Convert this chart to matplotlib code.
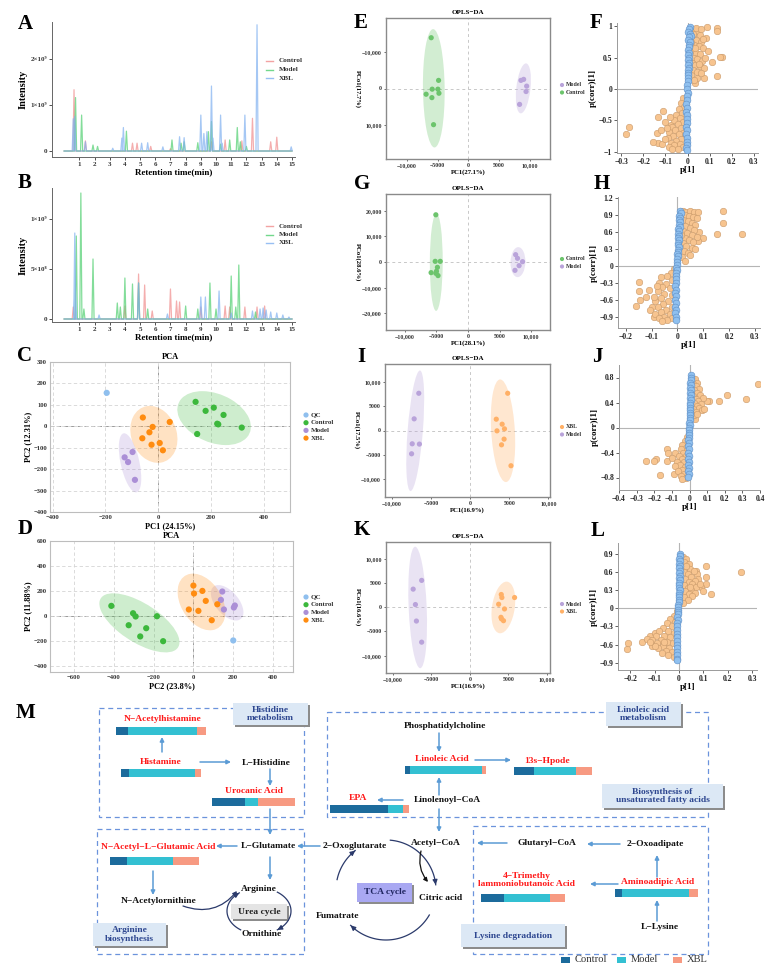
import numpy as np
import matplotlib
matplotlib.use('Agg')
import matplotlib.pyplot as plt
from matplotlib.patches import Ellipse, Rectangle

plt.rcParams['font.family'] = ['Liberation Serif', 'DejaVu Serif']
plt.rcParams['font.weight'] = 'bold'
plt.rcParams['axes.labelweight'] = 'bold'
plt.rcParams['axes.titleweight'] = 'bold'

# ---------------- data ----------------
chrom_names = ['Control', 'Model', 'XBL']
# (retention time min, height x1e9)
A_control = [(0.65, 1.33), (1.4, 0.22), (4.5, 0.17), (4.8, 0.17), (5.7, 0.10), (7.0, 0.05), (9.7, 0.20),
             (10.6, 0.24), (11.7, 0.22), (12.4, 0.71), (13.6, 0.20), (14.0, 0.30)]
A_model = [(0.75, 1.16), (1.15, 0.78), (1.9, 0.13), (2.2, 0.10), (4.1, 0.43), (7.1, 0.24), (7.7, 0.17),
           (7.9, 0.20), (8.8, 0.18), (9.5, 0.42), (9.7, 0.64), (10.3, 0.15), (10.9, 0.24), (11.4, 0.51),
           (11.6, 0.20), (12.0, 0.10)]
A_xbl = [(0.6, 0.70), (0.7, 0.75), (1.4, 0.20), (3.2, 0.06), (3.8, 0.28), (3.9, 0.51), (5.1, 0.17),
         (5.5, 0.18), (6.5, 0.09), (7.6, 0.31), (7.9, 0.29), (9.0, 0.78), (9.2, 0.38), (9.4, 0.42),
         (9.7, 1.41), (9.8, 0.28), (10.3, 0.78), (10.4, 0.17), (11.9, 0.78), (12.7, 2.74), (14.95, 0.09)]
B_control = [(0.6, 0.12), (4.0, 0.13), (4.9, 0.45), (5.3, 0.34), (5.8, 0.08), (7.0, 0.30), (7.4, 0.18),
             (7.6, 0.17), (9.0, 0.12), (10.6, 0.13), (10.9, 0.12), (11.9, 0.12), (12.7, 0.12), (13.2, 0.13)]
B_model = [(0.8, 0.83), (1.1, 1.26), (1.3, 0.10), (1.9, 0.60), (3.5, 0.16), (3.7, 0.12), (4.0, 0.41),
           (4.5, 0.35), (4.9, 0.36), (5.5, 0.10), (8.0, 0.13), (8.8, 0.10), (9.6, 0.36), (10.0, 0.10),
           (11.0, 0.43), (11.3, 0.12), (11.5, 0.54), (12.6, 0.07)]
B_xbl = [(0.7, 0.86), (0.72, 0.36), (2.3, 0.04), (4.9, 0.36), (6.8, 0.05), (9.0, 0.22), (9.3, 0.22),
         (10.2, 0.28), (11.0, 0.06), (12.4, 0.08), (12.9, 0.10), (13.1, 0.11), (13.3, 0.09), (13.6, 0.07),
         (14.0, 0.06), (14.4, 0.04), (14.8, 0.02)]

# PCA scores
C_qc = [(-195, 156)]
C_control = [(142, 114), (180, 72), (211, 87), (248, 53), (224, 12), (228, 9), (317, -6), (148, -36)]
C_model = [(-97, -120), (-127, -145), (-114, -167), (-88, -250)]
C_xbl = [(-58, 41), (-21, -3), (44, 20), (-33, -28), (-60, -56), (-25, -86), (6, -78), (18, -112)]
D_qc = [(200, -197)]
D_control = [(-412, 80), (-303, 21), (-290, -5), (-183, -3), (-325, -75), (-237, -99), (-267, -165), (-152, -203)]
D_model = [(145, 195), (138, 128), (208, 83), (203, 67), (153, 51)]
D_xbl = [(0, 243), (45, 200), (3, 179), (62, 120), (120, 93), (-23, 51), (25, 40), (92, -35)]

# OPLS-DA scores
E_control = [(-6040, -13900), (-4840, -2220), (-5880, 185), (-4950, 185), (-4780, 1300), (-6870, 1570),
             (-5930, 2500), (-5660, 9900)]
E_model = [(8570, -2220), (9010, -2500), (9500, -650), (9400, 830), (8350, 4350)]
G_control = [(-5100, 18400), (-5200, 260), (-4400, 260), (-4850, -2080), (-5850, -4150), (-5100, -4400),
             (-4750, -5300), (-5000, -3600)]
G_model = [(7550, 2860), (7850, 1430), (8650, 130), (8100, -1430), (7450, -3250)]
I_model = [(-6580, 7670), (-7170, 2400), (-7420, -2740), (-6500, -2800), (-7500, -4800)]
I_xbl = [(4790, 7670), (3330, 2330), (4080, 1300), (4380, 340), (3420, -70), (4330, -1780), (4000, -2950),
         (5210, -7260)]
K_model = [(-6270, 5560), (-7370, 3750), (-7080, 560), (-6950, -2850), (-6270, -7220)]
K_xbl = [(4070, 2640), (4150, 2010), (5800, 2010), (3730, 625), (4490, -350), (4030, -2080), (4360, -2780),
         (4100, -2400)]

# S-plots: (p[1], p(corr)[1])
F_orange = [(0.089, 0.98), (0.134, 0.97), (0.134, 0.92), (0.084, 0.81), (0.157, 0.51), (0.146, 0.51),
            (0.112, 0.43), (0.134, 0.20), (0.043, 0.18), (0.074, 0.18), (0.036, 0.10), (0.020, 0.95),
            (0.030, 0.90), (0.045, 0.92), (0.055, 0.86), (0.025, 0.82), (0.040, 0.78), (0.060, 0.75),
            (0.030, 0.70), (0.050, 0.68), (0.070, 0.65), (0.022, 0.62), (0.038, 0.58), (0.058, 0.55),
            (0.028, 0.50), (0.045, 0.47), (0.065, 0.45), (0.080, 0.50), (0.020, 0.42), (0.035, 0.38),
            (0.055, 0.36), (0.075, 0.33), (0.025, 0.30), (0.045, 0.27), (0.060, 0.25), (0.018, 0.22),
            (0.030, 0.15), (0.095, 0.60), (0.070, 0.80), (0.040, 0.97), (0.060, 0.95), (0.015, 0.75),
            (0.050, 0.40), (0.025, 0.88), (0.035, 0.65),
            (-0.266, -0.60), (-0.277, -0.71), (-0.135, -0.44), (-0.135, -0.86), (-0.115, -0.87),
            (-0.100, -0.52), (-0.077, -0.58), (-0.110, -0.35), (-0.155, -0.85), (-0.140, -0.70),
            (-0.120, -0.65), (-0.020, -0.15), (-0.030, -0.22), (-0.015, -0.28), (-0.040, -0.32),
            (-0.025, -0.38), (-0.050, -0.42), (-0.035, -0.46), (-0.060, -0.50), (-0.020, -0.52),
            (-0.045, -0.56), (-0.070, -0.60), (-0.030, -0.62), (-0.055, -0.66), (-0.085, -0.68),
            (-0.020, -0.70), (-0.040, -0.72), (-0.065, -0.75), (-0.090, -0.78), (-0.030, -0.80),
            (-0.050, -0.83), (-0.075, -0.86), (-0.100, -0.80), (-0.035, -0.88), (-0.060, -0.90),
            (-0.085, -0.92), (-0.020, -0.93), (-0.045, -0.95), (-0.070, -0.96), (-0.095, -0.62),
            (-0.080, -0.45)]
F_blue_x = [0.012, 0.008, 0.004, 0.010, 0.015, 0.006, 0.002, 0.011, 0.005, 0.009, 0.003, 0.007, 0.004, 0.008,
            0.002, 0.006, 0.003, 0.005, 0.001, 0.004, 0.002, 0.000, 0.001, -0.002, -0.003, 0.000, -0.004,
            -0.002, -0.005, -0.001, -0.006, -0.003, -0.004, -0.001, -0.005, -0.002, -0.006, -0.003, -0.004,
            -0.002, -0.005, -0.003]
F_blue_y = [0.98, 0.95, 0.91, 0.88, 0.85, 0.82, 0.78, 0.74, 0.70, 0.66, 0.62, 0.58, 0.54, 0.50, 0.46, 0.42,
            0.38, 0.34, 0.30, 0.26, 0.22, 0.18, 0.12, 0.06, 0.0, -0.06, -0.12, -0.18, -0.24, -0.30, -0.36,
            -0.42, -0.48, -0.54, -0.60, -0.66, -0.72, -0.78, -0.84, -0.89, -0.94, -0.98]

H_orange = [(0.178, 0.97), (0.175, 0.76), (0.153, 0.57), (0.250, 0.57), (0.100, 0.49), (0.085, 0.60),
            (0.080, 0.44), (0.020, 0.97), (0.035, 0.96), (0.050, 0.97), (0.065, 0.95), (0.028, 0.90),
            (0.045, 0.88), (0.060, 0.86), (0.075, 0.84), (0.022, 0.82), (0.040, 0.79), (0.055, 0.76),
            (0.070, 0.73), (0.030, 0.70), (0.048, 0.67), (0.065, 0.64), (0.020, 0.62), (0.038, 0.58),
            (0.058, 0.55), (0.075, 0.52), (0.028, 0.50), (0.045, 0.46), (0.062, 0.42), (0.020, 0.40),
            (0.035, 0.35), (0.055, 0.32), (0.070, 0.30), (0.025, 0.27), (0.040, 0.22), (0.018, 0.15),
            (0.030, 0.08), (0.050, 0.20), (0.080, 0.95), (0.015, 0.55),
            (-0.150, -0.29), (-0.147, -0.45), (-0.110, -0.42), (-0.145, -0.60), (-0.160, -0.71),
            (-0.090, -0.90), (-0.100, -0.72), (-0.120, -0.55), (-0.105, -0.78), (-0.065, -0.20),
            (-0.070, -0.30), (-0.015, -0.05), (-0.025, -0.12), (-0.040, -0.18), (-0.020, -0.25),
            (-0.045, -0.32), (-0.060, -0.38), (-0.030, -0.40), (-0.075, -0.45), (-0.050, -0.50),
            (-0.020, -0.52), (-0.065, -0.57), (-0.085, -0.62), (-0.035, -0.62), (-0.055, -0.68),
            (-0.075, -0.72), (-0.020, -0.72), (-0.045, -0.78), (-0.065, -0.82), (-0.085, -0.85),
            (-0.030, -0.85), (-0.050, -0.90), (-0.070, -0.93), (-0.020, -0.93), (-0.040, -0.96),
            (-0.060, -0.97), (-0.090, -0.55), (-0.080, -0.35)]
H_blue_x = [0.010, 0.014, 0.008, 0.012, 0.006, 0.011, 0.005, 0.009, 0.004, 0.008, 0.003, 0.007, 0.002, 0.006,
            0.004, 0.001, 0.005, 0.002, 0.003, 0.000, 0.002, -0.001, 0.000, -0.002, -0.004, -0.003, -0.006,
            -0.004, -0.007, -0.005, -0.008, -0.006, -0.009, -0.007, -0.008, -0.006, -0.009, -0.007, -0.008,
            -0.006, -0.007]
H_blue_y = [0.97, 0.93, 0.89, 0.85, 0.81, 0.77, 0.73, 0.69, 0.65, 0.61, 0.57, 0.53, 0.49, 0.45, 0.41, 0.37,
            0.33, 0.29, 0.25, 0.21, 0.17, 0.12, 0.07, 0.02, -0.03, -0.08, -0.13, -0.18, -0.24, -0.30, -0.36,
            -0.42, -0.48, -0.54, -0.60, -0.66, -0.72, -0.78, -0.84, -0.90, -0.96]

J_orange = [(0.390, 0.69), (0.320, 0.45), (0.210, 0.52), (0.170, 0.43), (0.110, 0.42), (0.100, 0.43),
            (0.030, 0.13), (0.015, 0.80), (0.030, 0.78), (0.045, 0.72), (0.020, 0.70), (0.035, 0.66),
            (0.055, 0.62), (0.025, 0.60), (0.040, 0.56), (0.060, 0.52), (0.075, 0.48), (0.020, 0.50),
            (0.035, 0.46), (0.050, 0.42), (0.065, 0.38), (0.025, 0.40), (0.040, 0.35), (0.055, 0.32),
            (0.070, 0.28), (0.020, 0.30), (0.035, 0.25), (0.025, 0.20), (0.045, 0.22), (0.080, 0.30),
            (-0.245, -0.53), (-0.190, -0.51), (-0.200, -0.53), (-0.170, -0.76), (-0.130, -0.34),
            (-0.120, -0.41), (-0.130, -0.53), (-0.090, -0.75), (-0.080, -0.40), (-0.100, -0.48),
            (-0.015, -0.15), (-0.025, -0.22), (-0.040, -0.28), (-0.020, -0.32), (-0.050, -0.35),
            (-0.035, -0.40), (-0.060, -0.45), (-0.020, -0.45), (-0.045, -0.50), (-0.070, -0.55),
            (-0.030, -0.55), (-0.055, -0.60), (-0.080, -0.62), (-0.025, -0.63), (-0.045, -0.68),
            (-0.065, -0.70), (-0.030, -0.74), (-0.050, -0.78), (-0.020, -0.80), (-0.040, -0.82)]
J_blue_x = [0.008, 0.006, 0.010, 0.005, 0.008, 0.004, 0.007, 0.003, 0.006, 0.004, 0.007, 0.003, 0.005, 0.002,
            0.004, 0.001, 0.003, 0.000, 0.002, -0.001, 0.000, -0.002, -0.003, -0.004, -0.005, -0.003, -0.006,
            -0.004, -0.007, -0.005, -0.006, -0.004, -0.007, -0.005, -0.006, -0.004, -0.007, -0.005, -0.006]
J_blue_y = [0.84, 0.80, 0.76, 0.72, 0.68, 0.64, 0.60, 0.56, 0.52, 0.48, 0.44, 0.40, 0.36, 0.32, 0.28, 0.24,
            0.20, 0.16, 0.12, 0.08, 0.04, 0.00, -0.04, -0.08, -0.12, -0.16, -0.20, -0.25, -0.30, -0.35, -0.40,
            -0.45, -0.50, -0.55, -0.60, -0.65, -0.70, -0.75, -0.79]

L_orange = [(0.253, 0.60), (0.112, 0.70), (0.110, 0.52), (0.112, 0.41), (0.133, 0.23), (0.070, 0.61),
            (0.072, 0.57), (0.090, 0.35), (0.100, 0.28), (0.080, 0.48), (0.015, 0.85), (0.030, 0.82),
            (0.020, 0.76), (0.040, 0.74), (0.025, 0.68), (0.045, 0.65), (0.060, 0.62), (0.020, 0.60),
            (0.035, 0.56), (0.050, 0.52), (0.065, 0.45), (0.025, 0.48), (0.040, 0.44), (0.055, 0.40),
            (0.070, 0.36), (0.020, 0.38), (0.035, 0.34), (0.050, 0.30), (0.065, 0.25), (0.025, 0.28),
            (0.040, 0.24), (0.055, 0.20), (0.020, 0.18), (0.035, 0.14), (0.015, 0.08), (0.085, 0.40),
            (0.045, 0.35), (0.030, 0.70),
            (-0.214, -0.68), (-0.207, -0.58), (-0.150, -0.55), (-0.120, -0.45), (-0.110, -0.62),
            (-0.130, -0.50), (-0.100, -0.40), (-0.010, -0.05), (-0.020, -0.12), (-0.035, -0.18),
            (-0.015, -0.22), (-0.050, -0.25), (-0.030, -0.30), (-0.065, -0.32), (-0.080, -0.38),
            (-0.045, -0.38), (-0.020, -0.40), (-0.095, -0.45), (-0.060, -0.45), (-0.035, -0.48),
            (-0.075, -0.52), (-0.110, -0.52), (-0.050, -0.55), (-0.090, -0.58), (-0.025, -0.58),
            (-0.065, -0.62), (-0.040, -0.65), (-0.085, -0.66), (-0.055, -0.70), (-0.030, -0.72),
            (-0.070, -0.74), (-0.045, -0.78), (-0.020, -0.80), (-0.060, -0.55), (-0.100, -0.62),
            (-0.120, -0.56)]
L_blue_x = [0.004, 0.006, 0.002, 0.005, 0.001, 0.004, 0.000, 0.003, 0.001, 0.004, 0.000, 0.003, 0.001, 0.002,
            0.000, 0.003, 0.001, 0.000, 0.002, -0.001, 0.000, -0.002, -0.003, -0.004, -0.005, -0.006, -0.007,
            -0.006, -0.008, -0.007, -0.009, -0.008, -0.010, -0.008, -0.009, -0.007, -0.010, -0.008, -0.009,
            -0.007]
L_blue_y = [0.90, 0.86, 0.82, 0.78, 0.74, 0.70, 0.66, 0.62, 0.58, 0.54, 0.50, 0.46, 0.42, 0.38, 0.34, 0.30,
            0.26, 0.22, 0.18, 0.14, 0.10, 0.06, 0.02, -0.02, -0.06, -0.10, -0.15, -0.20, -0.25, -0.30, -0.36,
            -0.42, -0.48, -0.54, -0.60, -0.66, -0.72, -0.78, -0.83, -0.86]

# pathway metabolites: relative level (Control, Model, XBL)
metab = ['N−Acetylhistamine', 'Histamine', 'Urocanic Acid', 'N−Acetyl−L−Glutamic Acid', 'EPA',
         'Linoleic Acid', '13s−Hpode', 'Aminoadipic Acid', '4−Trimethy\nlammoniobutanoic Acid']
ctrl_frac = [0.13, 0.10, 0.40, 0.19, 0.73, 0.06, 0.26, 0.08, 0.27]
model_frac = [0.77, 0.83, 0.16, 0.52, 0.19, 0.89, 0.53, 0.81, 0.55]
xbl_frac = [0.10, 0.07, 0.44, 0.29, 0.08, 0.05, 0.21, 0.11, 0.18]

# ---------------- figure ----------------
W, H = 777, 967
fig = plt.figure(figsize=(W / 100, H / 100), dpi=100)


def box(l, t, r, b):
    return fig.add_axes([l / W, 1 - b / H, (r - l) / W, (b - t) / H])


def num(v):
    s = f"{abs(v):,.0f}" if abs(v) >= 10000 else f"{abs(v):g}"
    return ('−' if v < 0 else '') + s


chrom_cols = ['#f08c8c', '#4fcf6f', '#7fb0f0']


def chrom(ax, groups, ylim, yt, ytl):
    for peaks, c in zip(groups, chrom_cols):
        xs, ys = [0.0], [0.0]
        for t, h in sorted(peaks):
            xs += [t - 0.07, t, t + 0.07]
            ys += [0.0, h, 0.0]
        xs.append(15.0)
        ys.append(0.0)
        ax.plot(xs, np.array(ys) * 1e9, color=c, lw=0.9, alpha=0.7)
    ax.set_xlim(-0.8, 15.2)
    ax.set_ylim(*ylim)
    ax.set_xticks(range(1, 16))
    ax.set_yticks(yt)
    ax.set_yticklabels(ytl)
    for s in ['top', 'right']:
        ax.spines[s].set_visible(False)
    for s in ['left', 'bottom']:
        ax.spines[s].set_color('#666666')
        ax.spines[s].set_linewidth(0.7)
    ax.tick_params(labelsize=5, length=2, width=0.6, pad=1.5, colors='#333333')
    ax.set_xlabel('Retention time(min)', fontsize=6.5, labelpad=1)
    ax.set_ylabel('Intensity', fontsize=7.5, labelpad=2)


axA = box(52, 22, 295, 157)
chrom(axA, [A_control, A_model, A_xbl], (-0.13e9, 2.8e9), [0, 1e9, 2e9], ['0', '1×10⁹', '2×10⁹'])
axB = box(52, 188, 295, 322)
chrom(axB, [B_control, B_model, B_xbl], (-0.03e9, 1.31e9), [0, 5e8, 1e9], ['0', '5×10⁸', '1×10⁹'])

grp_col = {'QC': '#8fbfee', 'Control': '#3cb83c', 'Model': '#ab8fd6', 'XBL': '#ff8c10'}
soft_col = {'Control': '#6cc46c', 'Model': '#b9a3da', 'XBL': '#ffb066'}


def conf_ellipse(ax, pts, color, alpha):
    p = np.array(pts, dtype=float)
    cov = np.cov(p[:, 0], p[:, 1])
    vals, vecs = np.linalg.eigh(cov)
    vals, vecs = vals[::-1], vecs[:, ::-1]
    ang = np.degrees(np.arctan2(vecs[1, 0], vecs[0, 0]))
    k = np.sqrt(5.991)
    ax.add_patch(Ellipse(p.mean(axis=0), 2 * k * np.sqrt(vals[0]), 2 * k * np.sqrt(vals[1]), angle=ang,
                         facecolor=color, edgecolor='none', alpha=alpha, zorder=1))


def pca(ax, groups, xlim, ylim, xt, yt, xl, yl):
    for name, pts in groups:
        p = np.array(pts, dtype=float)
        if len(p) > 2:
            conf_ellipse(ax, p, grp_col[name], 0.25)
        ax.scatter(p[:, 0], p[:, 1], s=20, color=grp_col[name], edgecolor='none', zorder=3)
    ax.set_xlim(*xlim)
    ax.set_ylim(*ylim)
    ax.set_xticks(xt)
    ax.set_yticks(yt)
    ax.set_xticklabels([num(v) for v in xt])
    ax.set_yticklabels([num(v) for v in yt])
    ax.grid(True, ls=(0, (4, 3)), color='#d4d4d4', lw=0.6, zorder=0)
    ax.axhline(0, ls=(0, (4, 3)), color='#999999', lw=0.7, zorder=0)
    ax.axvline(0, ls=(0, (4, 3)), color='#999999', lw=0.7, zorder=0)
    ax.set_axisbelow(True)
    for s in ax.spines.values():
        s.set_color('#bdbdbd')
        s.set_linewidth(0.8)
    ax.tick_params(labelsize=4.8, length=0, pad=2, colors='#333333')
    ax.set_title('PCA', fontsize=6, pad=2)
    ax.set_xlabel(xl, fontsize=6, labelpad=2)
    ax.set_ylabel(yl, fontsize=6, labelpad=1)


axC = box(50, 362, 290, 512)
pca(axC, [('QC', C_qc), ('Control', C_control), ('Model', C_model), ('XBL', C_xbl)],
    (-410, 500), (-400, 300), [-400, -200, 0, 200, 400], [-400, -300, -200, -100, 0, 100, 200, 300],
    'PC1 (24.15%)', 'PC2 (12.31%)')
axD = box(50, 541, 293, 672)
pca(axD, [('QC', D_qc), ('Control', D_control), ('Model', D_model), ('XBL', D_xbl)],
    (-720, 500), (-450, 600), [-600, -400, -200, 0, 200, 400], [-400, -200, 0, 200, 400, 600],
    'PC2 (23.8%)', 'PC2 (11.88%)')


def opls(ax, groups, xlim, ylim, xt, yt, xl, yl):
    for name, pts in groups:
        p = np.array(pts, dtype=float)
        conf_ellipse(ax, p, soft_col[name], 0.3)
        ax.scatter(p[:, 0], p[:, 1], s=14, color=soft_col[name], edgecolor='none', zorder=3)
    ax.set_xlim(*xlim)
    ax.set_ylim(*ylim)
    ax.set_xticks(xt)
    ax.set_yticks(yt)
    ax.set_xticklabels([num(v) for v in xt])
    ax.set_yticklabels([num(v) for v in yt])
    ax.axhline(0, ls=(0, (3, 3)), color='#c8c8c8', lw=0.7, zorder=0)
    ax.axvline(0, ls=(0, (3, 3)), color='#c8c8c8', lw=0.7, zorder=0)
    for s in ax.spines.values():
        s.set_color('#8a8a8a')
        s.set_linewidth(1.0)
    ax.tick_params(labelsize=4.2, length=1.5, width=0.5, pad=1.5, colors='#333333')
    ax.set_title('OPLS−DA', fontsize=5, pad=3)
    ax.set_xlabel(xl, fontsize=4.8, labelpad=1)
    ax.set_ylabel(yl, fontsize=4.8, labelpad=5, rotation=270)


axE = box(386, 18, 550, 159)
opls(axE, [('Control', E_control), ('Model', E_model)], (-13400, 13300), (19300, -19300),
     [-10000, -5000, 0, 5000, 10000], [-10000, 0, 10000], 'PC1(27.1%)', 'PCo1(17.7%)')
axG = box(386, 194, 550, 330)
opls(axG, [('Control', G_control), ('Model', G_model)], (-13000, 13000), (-26500, 26500),
     [-10000, -5000, 0, 5000, 10000], [-20000, -10000, 0, 10000, 20000], 'PC1(28.1%)', 'PCo1(28.6%)')
axI = box(385, 364, 550, 497)
opls(axI, [('Model', I_model), ('XBL', I_xbl)], (-10900, 10200), (-13700, 13700),
     [-10000, -5000, 0, 5000, 10000], [-10000, -5000, 0, 5000, 10000], 'PC1(16.9%)', 'PCo1(17.5%)')
axK = box(386, 542, 550, 673)
opls(axK, [('Model', K_model), ('XBL', K_xbl)], (-10900, 10400), (-13600, 13500),
     [-10000, -5000, 0, 5000, 10000], [-10000, -5000, 0, 5000, 10000], 'PC1(16.9%)', 'PCo1(16.6%)')


def splot(ax, orange, bx, by, xlim, ylim, xt, yt):
    o = np.array(orange)
    ax.axhline(0, color='#b5b5b5', lw=0.8, zorder=0)
    ax.axvline(0, color='#b5b5b5', lw=0.8, zorder=0)
    ax.scatter(o[:, 0], o[:, 1], s=22, color='#f7c48f', edgecolor='#c99a6a', lw=0.4, zorder=2)
    ax.scatter(bx, by, s=24, color='#8fc0ef', edgecolor='#5f8fc6', lw=0.4, zorder=3)
    ax.set_xlim(*xlim)
    ax.set_ylim(*ylim)
    ax.set_xticks(xt)
    ax.set_yticks(yt)
    ax.set_xticklabels([num(round(v, 2)) for v in xt])
    ax.set_yticklabels([num(round(v, 2)) for v in yt])
    for s in ['top', 'right']:
        ax.spines[s].set_visible(False)
    for s in ['left', 'bottom']:
        ax.spines[s].set_color('#9a9a9a')
        ax.spines[s].set_linewidth(0.7)
    ax.tick_params(labelsize=5.5, length=2, width=0.5, pad=1.5, colors='#222222')
    ax.set_xlabel('p[1]', fontsize=6.5, labelpad=0)
    ax.set_ylabel('p(corr)[1]', fontsize=6.5, labelpad=1)


axF = box(617, 23, 758, 153)
splot(axF, F_orange, F_blue_x, F_blue_y, (-0.32, 0.32), (-1.02, 1.05),
      [-0.3, -0.2, -0.1, 0, 0.1, 0.2, 0.3], [-1, -0.5, 0, 0.5, 1])
axH = box(618, 197, 760, 328)
splot(axH, H_orange, H_blue_x, H_blue_y, (-0.23, 0.32), (-1.1, 1.22),
      [-0.2, -0.1, 0, 0.1, 0.2, 0.3], [-0.9, -0.6, -0.3, 0, 0.3, 0.6, 0.9, 1.2])
axJ = box(619, 365, 760, 490)
splot(axJ, J_orange, J_blue_x, J_blue_y, (-0.4, 0.4), (-1.0, 1.0),
      [-0.4, -0.3, -0.2, -0.1, 0, 0.1, 0.2, 0.3, 0.4], [-0.8, -0.4, 0, 0.4, 0.8])
axL = box(618, 543, 757, 670)
splot(axL, L_orange, L_blue_x, L_blue_y, (-0.25, 0.32), (-1.02, 1.08),
      [-0.2, -0.1, 0, 0.1, 0.2, 0.3], [-0.9, -0.6, -0.3, 0, 0.3, 0.6, 0.9])

# ---------------- overlay (letters, legends, pathway) ----------------
ov = fig.add_axes([0, 0, 1, 1])
ov.set_xlim(0, W)
ov.set_ylim(H, 0)
ov.axis('off')

for letter, x, y in [('A', 25, 24), ('B', 25, 183), ('C', 25, 356), ('D', 25, 529), ('E', 361, 23),
                     ('F', 596, 23), ('G', 362, 184), ('H', 602, 184), ('I', 361, 357), ('J', 597, 357),
                     ('K', 362, 530), ('L', 598, 531), ('M', 26, 713)]:
    ov.text(x, y, letter, fontsize=15, ha='center', va='center', color='black')

# chromatogram legends
for y0 in (61, 226):
    for i, (nm, c) in enumerate(zip(chrom_names, chrom_cols)):
        y = y0 + i * 8.5
        ov.plot([266, 273], [y, y], color=c, lw=1.0, alpha=0.8)
        ov.text(279, y, nm, fontsize=5.2, va='center', color='#333333')

# PCA legends
for y0 in (415, 597):
    for i, nm in enumerate(['QC', 'Control', 'Model', 'XBL']):
        y = y0 + i * 7.7
        ov.scatter(306, y, s=14, color=grp_col[nm], edgecolor='none')
        ov.text(311, y, nm, fontsize=5, va='center', color='#333333')

# OPLS legends
for y0, names in [(85, ['Model', 'Control']), (259, ['Control', 'Model']), (427, ['XBL', 'Model']),
                  (604, ['Model', 'XBL'])]:
    for i, nm in enumerate(names):
        y = y0 + i * 7.5
        ov.scatter(562, y, s=9, color=soft_col[nm], edgecolor='none')
        ov.text(566, y, nm, fontsize=4.2, va='center', color='#333333')

# pathway panel
blue_arrow = '#5b9bd5'
navy = '#2b3a6b'
red = '#ff1a1a'
bar_cols = ['#1c6b9c', '#33c0d2', '#f79a82']


def arrow(x1, y1, x2, y2, color=blue_arrow, rad=0.0, lw=1.1, ms=6):
    ov.annotate('', xy=(x2, y2), xytext=(x1, y1),
                arrowprops=dict(arrowstyle='-|>', color=color, lw=lw, mutation_scale=ms,
                                shrinkA=0, shrinkB=0, connectionstyle=f'arc3,rad={rad}'))


def arc(cx, cy, rx, ry, t1, t2, color=navy, head=True, lw=0.9):
    th = np.radians(np.linspace(t1, t2, 50))
    xs = cx + rx * np.cos(th)
    ys = cy - ry * np.sin(th)
    ov.plot(xs, ys, color=color, lw=lw)
    if head:
        arrow(xs[-3], ys[-3], xs[-1], ys[-1], color=color, lw=lw, ms=7)


def label_box(l, t, r, b, text, fc='#dce8f5', tc='#2e4790'):
    ov.add_patch(Rectangle((l + 2, t + 1.5), r - l, b - t, facecolor='#8c8c8c', edgecolor='none', zorder=2))
    ov.add_patch(Rectangle((l, t), r - l, b - t, facecolor=fc, edgecolor='none', zorder=3))
    ov.text((l + r) / 2, (t + b) / 2, text, fontsize=6.8, ha='center', va='center', color=tc,
            linespacing=1.1, zorder=4)


for l, t, r, b in [(99, 708, 304, 817), (97, 829, 304, 954), (327, 712, 708, 817), (473, 826, 708, 954)]:
    ov.add_patch(Rectangle((l, t), r - l, b - t, facecolor='none', edgecolor='#6b93dc', lw=0.9,
                           ls=(0, (4, 3)), zorder=1))

label_box(233, 703, 308, 725, 'Histidine\nmetabolism')
label_box(93, 923, 166, 946, 'Arginine\nbiosynthesis')
label_box(606, 702, 681, 726, 'Linoleic acid\nmetabolism')
label_box(602, 784, 723, 808, 'Biosynthesis of\nunsaturated fatty acids')
label_box(461, 924, 565, 947, 'Lysine degradation')
label_box(231, 904, 287, 919, 'Urea cycle', fc='#e4e4e4', tc='#222222')
label_box(357, 883, 412, 902, 'TCA cycle', fc='#a9a8f2', tc='#1f2560')

# metabolite labels (red) and bars: label x, label y, bar left, bar y, bar length
metab_pos = [(163, 719, 116, 730.5, 90), (161, 762, 121, 773, 80), (254, 791, 212, 801.5, 83),
             (158, 847, 110, 861, 89), (358, 798, 330, 808.5, 79), (442, 759, 405, 770, 81),
             (547, 761, 514, 770.5, 78), (658, 882, 615, 893, 83), (527, 880, 481, 898, 84)]
for name, (tx, ty, bl, by, ln), fc, fm, fx in zip(metab, metab_pos, ctrl_frac, model_frac, xbl_frac):
    ov.text(tx, ty, name, fontsize=6.8, color=red, ha='center', va='center', linespacing=1.05)
    tot = fc + fm + fx
    lefts = bl + ln * np.cumsum([0, fc, fm]) / tot
    ov.barh([by] * 3, np.array([fc, fm, fx]) / tot * ln, left=lefts, height=8, color=bar_cols)

for txt, x, y in [('L−Histidine', 266, 763), ('L−Glutamate', 268, 846), ('N−Acetylornithine', 159, 901),
                  ('Arginine', 259, 889), ('Ornithine', 262, 934), ('2−Oxoglutarate', 355, 846),
                  ('Fumatrate', 338, 916), ('Citric acid', 441, 898), ('Acetyl−CoA', 436, 843),
                  ('Phosphatidylcholine', 445, 726), ('Linolenoyl−CoA', 447, 800), ('Glutaryl−CoA', 547, 843),
                  ('2−Oxoadipate', 655, 844), ('L−Lysine', 660, 927)]:
    ov.text(x, y, txt, fontsize=6.8, color='#111111', ha='center', va='center')

for a in [(162, 752, 162, 737), (200, 762, 231, 762), (270, 769, 270, 786), (270, 809, 270, 835),
          (237, 846, 216, 846), (153, 871, 153, 895), (320, 846, 297, 846), (270, 857, 270, 880),
          (439, 733, 439, 752), (475, 760, 511, 760), (439, 795, 439, 777), (403, 800, 377, 800),
          (439, 809, 439, 832), (507, 843, 477, 843), (620, 844, 587, 844), (657, 877, 657, 855),
          (618, 884, 590, 884), (657, 921, 657, 900)]:
    arrow(*a)

# TCA cycle arcs
arc(386, 890, 50, 50, 168, 128)
arc(386, 890, 50, 50, 85, 6)
arc(386, 890, 50, 50, -30, -135)
arrow(421, 851, 428, 882, color='#111111', rad=0.25, lw=0.9)
# urea cycle arcs
arc(259, 911, 32, 23, 55, -55)
arc(259, 911, 32, 23, 235, 128)
arrow(183, 906, 237, 891, color=navy, rad=0.35, lw=0.9)

# pathway legend
for i, (nm, c) in enumerate(zip(chrom_names, bar_cols)):
    x = 561 + i * 56
    ov.add_patch(Rectangle((x, 957), 9, 6, facecolor=c, edgecolor='none'))
    ov.text(x + 14, 960, nm, fontsize=7.6, va='center', color='#333333', fontweight='normal')

fig.savefig('out.png', dpi=100)
